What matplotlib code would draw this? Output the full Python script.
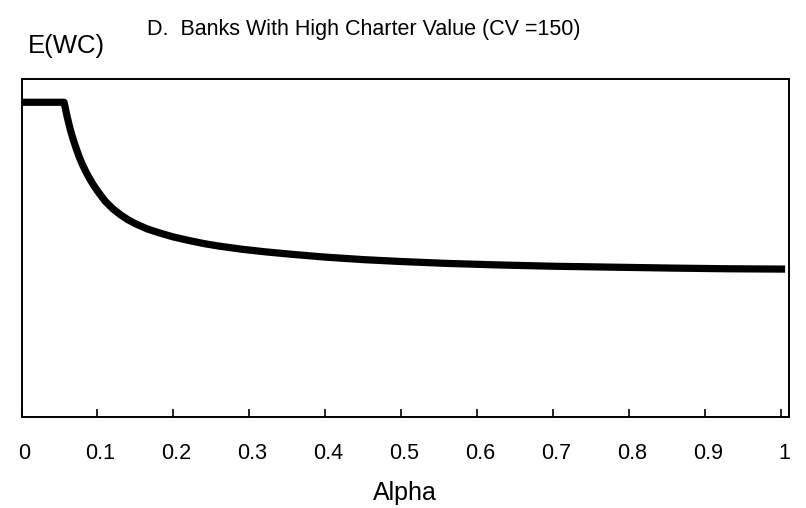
import matplotlib
matplotlib.use("Agg")
import matplotlib.pyplot as plt
import matplotlib.transforms as mtransforms

plt.rcParams['font.family'] = ['Liberation Sans', 'DejaVu Sans']

# Data
alpha = [0.0, 0.056, 0.060, 0.064, 0.068, 0.072, 0.076, 0.080, 0.085, 0.090,
         0.095, 0.100, 0.110, 0.120, 0.130, 0.140, 0.150, 0.165, 0.180, 0.200,
         0.220, 0.240, 0.260, 0.290, 0.320, 0.360, 0.400, 0.450, 0.500, 0.560,
         0.630, 0.700, 0.780, 0.860, 0.930, 1.0]
ewc = [1.0, 1.0, 0.955, 0.915, 0.882, 0.853, 0.826, 0.803, 0.778, 0.756,
       0.736, 0.718, 0.686, 0.662, 0.643, 0.627, 0.614, 0.598, 0.586, 0.572,
       0.561, 0.551, 0.543, 0.533, 0.525, 0.516, 0.508, 0.500, 0.494, 0.488,
       0.483, 0.479, 0.476, 0.473, 0.471, 0.470]
xticks = [0, 0.1, 0.2, 0.3, 0.4, 0.5, 0.6, 0.7, 0.8, 0.9, 1]
xticklabels = ['0', '0.1', '0.2', '0.3', '0.4', '0.5', '0.6', '0.7', '0.8', '0.9', '1']

W, H = 806, 508
fig = plt.figure(figsize=(W / 100, H / 100), dpi=100)
left, right, top, bottom = 21.5, 789, 79.3, 417
ax = fig.add_axes([left / W, 1 - bottom / H, (right - left) / W, (bottom - top) / H])

ax.plot(alpha, ewc, color='black', lw=5.2, solid_capstyle='projecting',
        solid_joinstyle='round')

ax.set_xlim(0, 1.0099)
ax.set_ylim(0, 1.073)
ax.set_yticks([])
ax.set_xticks(xticks)
ax.set_xticklabels(xticklabels)
ax.tick_params(axis='x', direction='in', length=5.8, width=1.2, pad=18.5,
               labelsize=15.5, colors='black')
for s in ax.spines.values():
    s.set_linewidth(1.4)
    s.set_color('black')

offset = mtransforms.ScaledTranslation(3 / 100, 0, fig.dpi_scale_trans)
for lab in ax.get_xticklabels():
    lab.set_transform(lab.get_transform() + offset)

fig.text(147 / W, 1 - 35 / H, 'D.  Banks With High Charter Value (CV =150)',
         fontsize=15.5, ha='left', va='baseline')
fig.text(28 / W, 1 - 52.5 / H, 'E(WC)', fontsize=18.5, ha='left', va='baseline')
fig.text(405 / W, 1 - 500 / H, 'Alpha', fontsize=18, ha='center', va='baseline')

fig.savefig('out.png', dpi=100)
